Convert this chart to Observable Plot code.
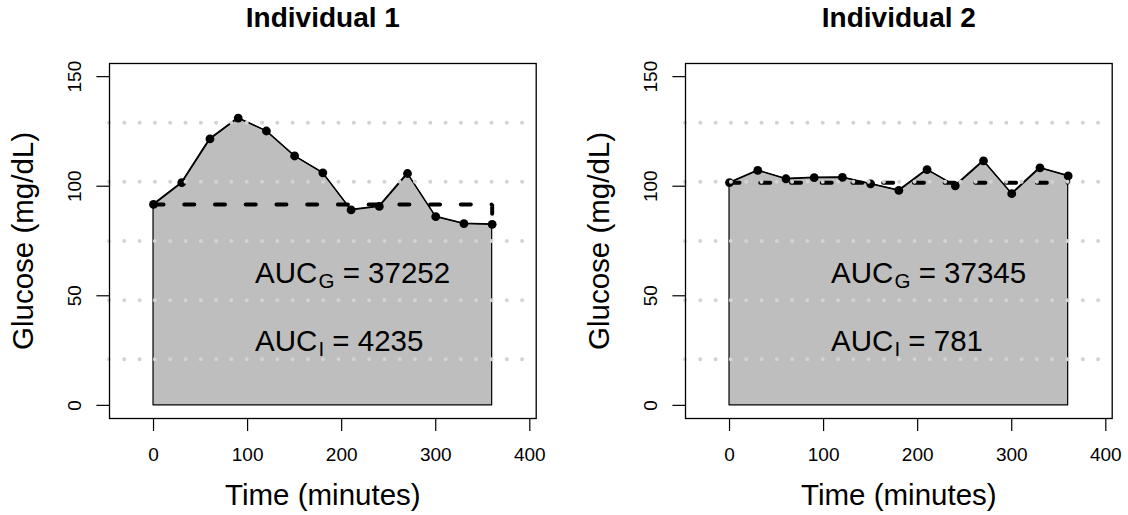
<!DOCTYPE html>
<html><head><meta charset="utf-8">
<script src="https://cdn.jsdelivr.net/npm/d3@7"></script>
<script src="https://cdn.jsdelivr.net/npm/@observablehq/plot@0.6"></script>
<style>
body{margin:0;background:#fff;}
#wrap{position:relative;width:1128px;height:515px;overflow:hidden;}
#wrap svg{position:absolute;top:0;}
</style></head><body><div id="wrap"></div>
<script>
// ---- data ----
const times = [0, 30, 60, 90, 120, 150, 180, 210, 240, 270, 300, 330, 360];
const glucose1 = [91.7, 101.6, 121.6, 131.1, 125.2, 113.8, 106.1, 89.2, 90.8, 105.8, 86.1, 82.9, 82.6];
const glucose2 = [101.6, 107.2, 103.4, 103.9, 104.0, 101.1, 98.1, 107.6, 100.2, 111.6, 96.6, 108.4, 104.7];
const titles = ["Individual 1", "Individual 2"];
const aucG = [37252, 37345];
const aucI = [4235, 781];
const xTicks = [0, 100, 200, 300, 400];
const yTicks = [0, 50, 100, 150];
const gridLevels = [21, 48, 75, 102, 129];
const xLabel = "Time (minutes)";
const yLabel = "Glucose (mg/dL)";

const FONT = "'Liberation Sans', Arial, Helvetica, sans-serif";

function panel(i, glucose, width, marginRight) {
  const data = times.map((t, k) => ({time: t, glucose: glucose[k]}));
  const n = data.length;
  const baseline = [
    {time: times[0], glucose: glucose[0]},
    {time: times[n - 1], glucose: glucose[0]},
    {time: times[n - 1], glucose: glucose[n - 1]}
  ];
  const labels = [
    {text: `AUC_G_ = ${aucG[i]}`, y: 60},
    {text: `AUC_I_ = ${aucI[i]}`, y: 29}
  ];
  return Plot.plot({
    width, height: 515,
    marginLeft: 109, marginRight, marginTop: 63, marginBottom: 97,
    x: {domain: [-46.8, 406.8]},
    y: {domain: [-6, 156]},
    style: {fontFamily: FONT, background: "transparent", color: "black", overflow: "visible"},
    marks: [
      Plot.areaY(data, {x: "time", y: "glucose", fill: "#bebebe", stroke: "black", strokeWidth: 1.2}),
      Plot.line(data, {x: "time", y: "glucose", stroke: "black", strokeWidth: 1.3}),
      Plot.dot(data, {x: "time", y: "glucose", r: 4.4, fill: "black", stroke: null}),
      Plot.line(baseline, {x: "time", y: "glucose", stroke: "black", strokeWidth: 4,
        strokeDasharray: "10,20.73", strokeLinecap: "round", strokeLinejoin: "miter"}),
      Plot.ruleY(gridLevels, {stroke: "#d3d3d3", strokeWidth: 4, strokeDasharray: "0,15.3", strokeLinecap: "round"}),
      Plot.text(labels, {x: () => 108, y: "y", text: "text", textAnchor: "start", lineAnchor: "middle",
        fontSize: 29.5, fill: "black"}),
      Plot.frame({stroke: "black", strokeWidth: 1.3}),
      Plot.axisX({ticks: xTicks, tickSize: 13, tickPadding: 16, fontSize: 19, label: null, strokeWidth: 1.2}),
      Plot.axisY({ticks: yTicks, tickSize: 12.6, tickFormat: () => "", label: null, strokeWidth: 1.2}),
      Plot.text(yTicks, {y: d => d, text: d => String(d), frameAnchor: "left", dx: -35, rotate: -90,
        textAnchor: "middle", lineAnchor: "middle", fontSize: 19}),
      Plot.text([xLabel], {text: d => d, frameAnchor: "bottom", dy: 77, lineAnchor: "middle", fontSize: 29.5}),
      Plot.text([yLabel], {text: d => d, frameAnchor: "left", dx: -86, rotate: -90,
        textAnchor: "middle", lineAnchor: "middle", fontSize: 29.5}),
      Plot.text([titles[i]], {text: d => d, frameAnchor: "top", dy: -45.5, lineAnchor: "middle",
        fontSize: 28, fontWeight: "bold"})
    ]
  });
}

// turn "AUC_G_ = 123" into AUC with subscript G
function subscripts(svg) {
  svg.querySelectorAll("text").forEach(t => {
    const s = t.textContent;
    const m = s.match(/^(.*?)_(.+?)_(.*)$/);
    if (!m) return;
    t.textContent = "";
    const ns = "http://www.w3.org/2000/svg";
    const a = document.createElementNS(ns, "tspan"); a.textContent = m[1];
    const b = document.createElementNS(ns, "tspan"); b.textContent = m[2];
    b.setAttribute("font-size", "20.6"); b.setAttribute("dy", "5"); b.setAttribute("dx", "1");
    const c = document.createElementNS(ns, "tspan"); c.textContent = m[3];
    c.setAttribute("dy", "-5");
    t.append(a, b, c);
  });
}

const wrap = document.getElementById("wrap");
const p1 = panel(0, glucose1, 564, 28.3);
p1.style.left = "0px";
const p2 = panel(1, glucose2, 552, 16.3);
p2.style.left = "576px";
subscripts(p1); subscripts(p2);
wrap.append(p1, p2);
</script>
</body></html>
